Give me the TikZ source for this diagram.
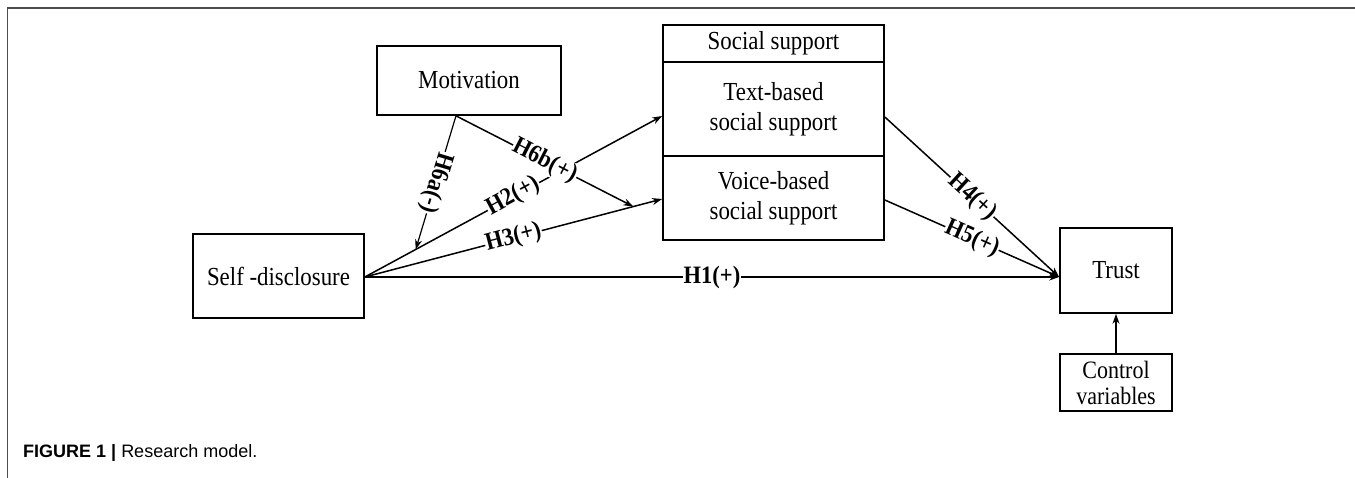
\documentclass[tikz,border=0pt]{standalone}
\usepackage{fontspec}
\setmainfont{Liberation Serif}
\newfontfamily\boxfont[FakeStretch=0.88]{Liberation Serif}
\newfontfamily\lblfont[FakeStretch=0.9]{Liberation Serif Bold}
\newfontfamily\capfont{Liberation Sans}
\usetikzlibrary{arrows.meta}
\tikzset{
  box/.style={draw, line width=1.7pt, inner sep=0pt, align=center, font=\boxfont\fontsize{26}{30}\selectfont},
  lbl/.style={font=\lblfont\fontsize{25}{26}\selectfont, fill=white, inner sep=0.8pt, midway},
  conn/.style={line width=1.5pt, -{Stealth[length=10pt,width=7pt]}},
  frame/.style={line width=1.6pt, draw=black!70}
}
\begin{document}
\begin{tikzpicture}[x=1pt,y=-1pt]
\useasboundingbox (0,0) rectangle (1355,478);
\draw[frame] (7.5,478) -- (7.5,8.3) -- (1355,8.3);
% boxes
\node[box, minimum width=184pt, minimum height=69pt] (mot) at (469,80.5) {Motivation};
\node[box, minimum width=171pt, minimum height=84pt] (sd) at (278.5,276) {Self -disclosure};
\node[box, minimum width=221pt, minimum height=37pt] (head) at (773.5,43.5) {Social support};
\node[box, minimum width=221pt, minimum height=94pt] (text) at (773.5,109) {Text-based\\social support};
\node[box, minimum width=221pt, minimum height=84pt] (voice) at (773.5,198) {Voice-based\\social support};
\node[box, minimum width=112pt, minimum height=85pt] (trust) at (1116,270.5) {Trust};
\node[box, minimum width=112pt, minimum height=57pt, font=\boxfont\fontsize{25}{26}\selectfont] (ctrl) at (1116,382.5) {Control\\variables};
% anchor coordinates
\coordinate (sdo) at ([yshift=-1pt]sd.east);
\coordinate (txin) at ([yshift=-7pt]text.west);
\coordinate (vcin) at ([yshift=-1pt]voice.west);
\coordinate (tin) at (trust.west |- sdo);
\coordinate (mo) at ([xshift=-13pt]mot.south);
\coordinate (txo) at ([yshift=-8pt]text.east);
\coordinate (vco) at ([yshift=-2pt]voice.east);
\path (sdo) -- (txin) coordinate[pos=0.171] (m1);
\path (sdo) -- (vcin) coordinate[pos=0.903] (m2);
% connectors
\draw[conn] (sdo) -- (txin) node[lbl, sloped] {H2(+)};
\draw[conn] (sdo) -- (vcin) node[lbl, sloped] {H3(+)};
\draw[conn] (sdo) -- (tin) node[lbl] {H1(+)};
\draw[conn] (txo) -- (tin) node[lbl, sloped] {H4(+)};
\draw[conn] (vco) -- (tin) node[lbl, sloped] {H5(+)};
\draw[conn] (ctrl.north) -- (trust.south);
\draw[conn, line width=1.2pt] (mo) -- (m1) node[lbl, sloped, allow upside down] {H6a(-)};
\draw[conn] (mo) -- (m2) node[lbl, sloped] {H6b(+)};
% caption
\node[anchor=base west, inner sep=0pt, font=\capfont\fontsize{18}{20}\selectfont] (cap) at (23,457) {\textbf{FIGURE 1 |} Research model.};
\end{tikzpicture}
\end{document}
